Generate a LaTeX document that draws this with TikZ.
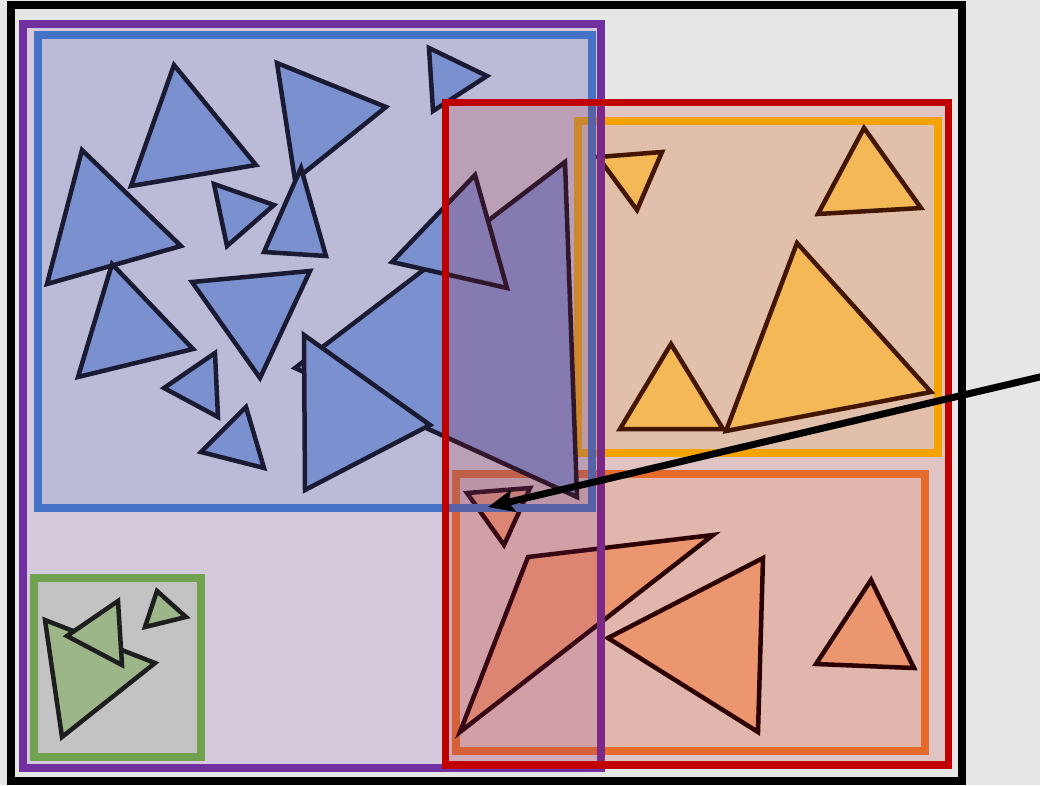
\documentclass[tikz,border=0pt]{standalone}
\usetikzlibrary{arrows.meta}
\definecolor{bgC}{HTML}{E6E6E6}
\definecolor{purpleC}{HTML}{7030A0}
\definecolor{blueC}{HTML}{4472C4}
\definecolor{redC}{HTML}{C00000}
\definecolor{yellowC}{HTML}{FFC000}
\definecolor{orangeC}{HTML}{ED7D31}
\definecolor{greenC}{HTML}{70A24F}
\definecolor{blueTri}{HTML}{7B91CF}
\definecolor{blueEdge}{HTML}{1A1A33}
\definecolor{greenTri}{HTML}{9CB68A}
\definecolor{greenEdge}{HTML}{1E1E1E}
\definecolor{orangeTri}{HTML}{F4B183}
\definecolor{orangeEdge}{HTML}{120000}
\definecolor{yellowTri}{HTML}{FFD966}
\definecolor{yellowEdge}{HTML}{2E1A00}
\begin{document}
\begin{tikzpicture}[x=1pt,y=-1pt,
  box/.style={line width=8pt},
  tri/.style={line width=4.5pt, line join=miter},
  btri/.style={tri, draw=blueEdge, fill=blueTri},
  gtri/.style={tri, draw=greenEdge, fill=greenTri},
  otri/.style={tri, draw=orangeEdge, fill=orangeTri},
  ytri/.style={tri, draw=yellowEdge, fill=yellowTri},
  pointer/.style={line width=7pt, -{Stealth[length=26pt,width=22pt,inset=5pt]}}]
\useasboundingbox (0,0) rectangle (1040,785);
\fill[bgC] (0,0) rectangle (1040,785);
\draw[line width=8pt] (11,5) rectangle (962,781);
% orange group
\draw[box, draw=orangeC, fill=orangeC, fill opacity=0.15] (456,473.5) rectangle (924.5,750.5);
\draw[otri] (467,493) -- (530,488) -- (504,545) -- cycle;
\draw[otri] (528,557) -- (713,535) -- (460,732) -- cycle;
\draw[otri] (763,558) -- (758,732) -- (608,638) -- cycle;
\draw[otri] (871,580) -- (914,668) -- (816,664) -- cycle;
% yellow group
\draw[box, draw=yellowC, fill=yellowC, fill opacity=0.13] (577.5,121) rectangle (937.5,452.5);
\draw[ytri] (598,157) -- (662,152) -- (637,210) -- cycle;
\draw[ytri] (864,128) -- (921,208) -- (818,214) -- cycle;
\draw[ytri] (671,344) -- (723,429) -- (620,429) -- cycle;
\draw[ytri] (797,243) -- (931,392) -- (726,431) -- cycle;
% purple group
\draw[box, draw=purpleC, fill=purpleC, fill opacity=0.15] (22.5,24) rectangle (601,768);
% blue group
\draw[box, draw=blueC, fill=blueC, fill opacity=0.17] (37.5,34.5) rectangle (591.5,508);
\draw[btri] (174,65) -- (256,165) -- (131,186) -- cycle;
\draw[btri] (277,63) -- (386,107) -- (295,180) -- cycle;
\draw[btri] (82,150) -- (181,246) -- (47,284) -- cycle;
\draw[btri] (214,184) -- (274,205) -- (227,246) -- cycle;
\draw[btri] (301,168) -- (264,252) -- (326,256) -- cycle;
\draw[btri] (429,48) -- (487,76) -- (433,111) -- cycle;
\draw[btri] (112,264) -- (193,349) -- (78,377) -- cycle;
\draw[btri] (192,282) -- (310,271) -- (260,378) -- cycle;
\draw[btri] (215,353) -- (218,417) -- (164,388) -- cycle;
\draw[btri] (246,407) -- (264,468) -- (201,452) -- cycle;
\draw[btri] (295,368) -- (565,162) -- (577,497) -- cycle;
\draw[btri] (475,175) -- (392,262) -- (507,288) -- cycle;
\draw[btri] (304,335) -- (305,490) -- (430,425) -- cycle;
% green group
\draw[box, draw=greenC, fill=greenC, fill opacity=0.17] (34,577.5) rectangle (201,756.5);
\draw[gtri] (45,620) -- (155,663) -- (62,737) -- cycle;
\draw[gtri] (118,601) -- (122,665) -- (67,636) -- cycle;
\draw[gtri] (157,591) -- (186,617) -- (145,627) -- cycle;
% red group
\draw[line width=7.5pt, draw=redC, fill=redC, fill opacity=0.15] (445.3,102.5) rectangle (948.5,765);
% pointer
\coordinate (src) at (1050,374.6);
\coordinate (dst) at (488,507);
\draw[pointer] (src) -- (dst);
\end{tikzpicture}
\end{document}
